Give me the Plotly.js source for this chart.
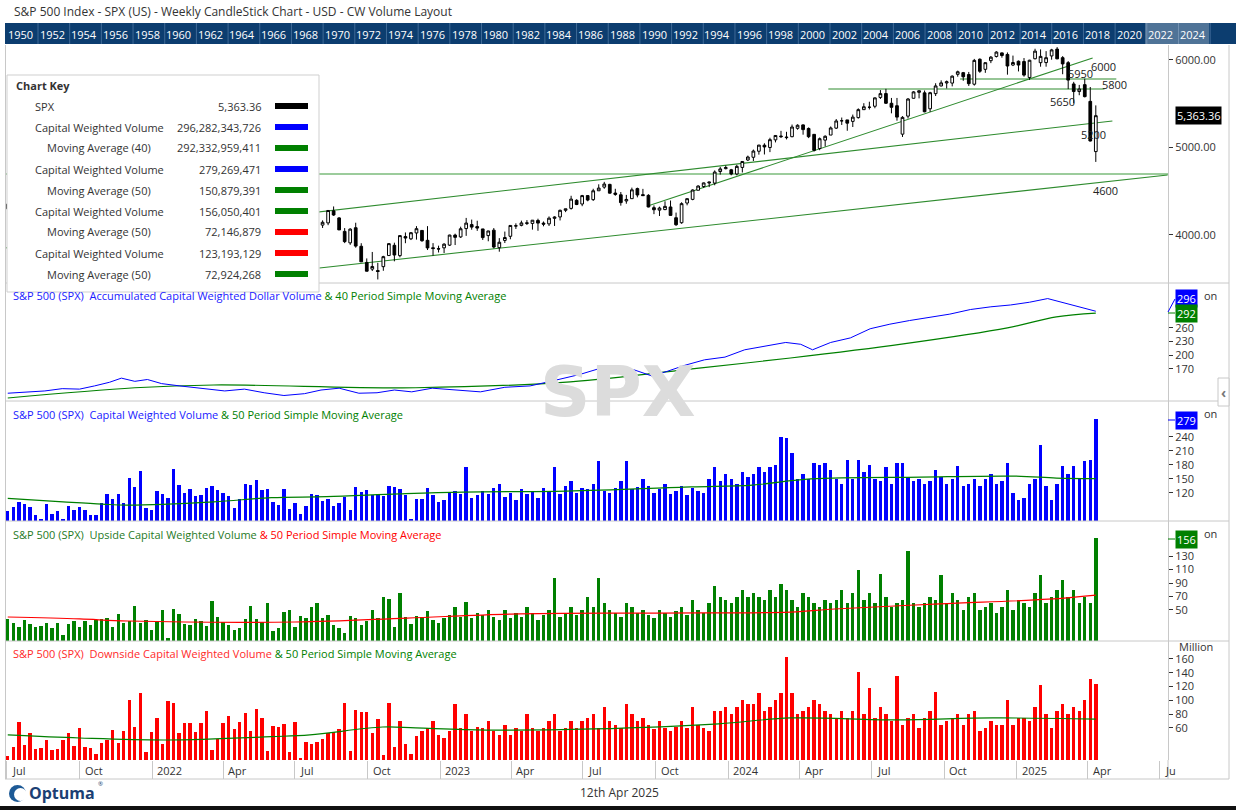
<!DOCTYPE html>
<html><head><meta charset="utf-8">
<script src="https://cdn.plot.ly/plotly-3.0.1.min.js"></script>
<style>html,body{margin:0;padding:0;background:#fff;}#chart{width:1236px;height:810px;}</style>
</head><body><div id="chart"></div>
<script>
// ---------------- DATA ----------------
const firstWeek = '2021-07-02';
const openP = [4300,4350,4372,4296,4409,4406,4438,4462,4450,4514,4535,4469,4402,4465,4348,4385,4464,4553,4610,4689,4689,4712,4628,4572,4710,4548,4733,
4778,4663,4632,4357,4431,4506,4412,4333,4363,4323,4188,4462,4541,4540,4462,4385,4255,4130,4081,4014,3919,4147,4134,3838,3696,3920,3815,3880,3883,3966,4113,4138,4276,4195,4041,3910,4083,3871,3686,3610,3593,3638,3765,3882,3764,3982,3956,4023,4052,3939,3854,3843,
3853,3884,3999,3978,4073,4119,4096,4069,3993,4055,3855,3938,3985,4102,4110,4139,4132,4166,4136,4127,4190,4206,4282,4304,4396,4354,4450,4404,4505,4547,4578,4479,4459,4389,4415,4530,4461,4453,4312,4284,4290,4320,4197,4140,4365,4407,4511,4554,4594,4593,4725,4758,
4745,4697,4772,4857,4888,4957,5026,5000,5087,5131,5112,5123,5219,5258,5217,5150,4988,5084,5142,5221,5305,5315,5298,5341,5432,5459,5471,5572,5616,5505,5477,5152,5358,5562,5630,5624,5442,5615,5703,5737,5736,5836,5855,5833,5723,6008,5893,5992,6040,6081,6063,5942,
5985,5982,5800,6014,5969,5970,6046,6124,6026,5969,5726,5639,5718,5527,4953];
const highP = [4356,4372,4393,4415,4429,4440,4469,4482,4513,4546,4549,4486,4466,4475,4430,4475,4559,4608,4718,4714,4717,4743,4672,4713,4731,4740,4808,
4819,4749,4673,4453,4596,4590,4489,4385,4402,4353,4465,4546,4637,4593,4471,4513,4308,4308,4081,4090,4159,4178,4169,3838,3914,3951,3918,3904,4013,4140,4167,4281,4326,4204,4079,4077,4140,3906,3732,3806,3682,3762,3906,3912,3996,4029,4034,4101,4052,4101,3907,3878,
3906,4003,4015,4095,4195,4176,4163,4070,4048,4079,3964,4039,4110,4133,4164,4170,4170,4186,4154,4212,4213,4290,4299,4448,4409,4458,4456,4528,4579,4607,4585,4528,4491,4458,4541,4541,4527,4466,4338,4324,4385,4394,4256,4374,4418,4521,4568,4599,4609,4738,4778,4794,
4755,4802,4842,4907,4976,5030,5048,5111,5140,5190,5179,5262,5265,5264,5229,5150,5114,5139,5240,5325,5342,5315,5376,5447,5506,5523,5571,5656,5670,5566,5566,5358,5564,5643,5651,5651,5636,5734,5767,5765,5823,5878,5863,5863,6012,6018,5972,6045,6100,6085,6086,6050,
5994,6022,6002,6128,6121,6101,6127,6147,6044,5987,5750,5715,5786,5691,5481];
const lowP = [4290,4321,4321,4233,4367,4368,4428,4367,4436,4503,4456,4427,4305,4278,4278,4330,4453,4537,4595,4631,4672,4585,4495,4532,4573,4532,4729,
4662,4582,4395,4223,4420,4401,4335,4114,4267,4157,4129,4424,4506,4450,4381,4267,4124,4062,3858,3811,3875,4074,3901,3637,3666,3738,3742,3721,3849,3911,4080,4112,4218,4058,3907,3887,3855,3694,3584,3588,3492,3591,3764,3699,3745,3906,3942,3947,3923,3828,3764,3800,
3794,3874,3885,3966,3990,4060,4047,3943,3928,3847,3809,3908,3951,4069,4099,4114,4061,4048,4099,4103,4103,4166,4261,4290,4341,4329,4385,4389,4503,4528,4474,4448,4335,4357,4415,4430,4446,4316,4238,4217,4284,4223,4104,4128,4339,4397,4511,4538,4547,4568,4690,4750,
4682,4682,4714,4845,4845,4918,4920,4947,5058,5108,5092,5117,5203,5146,5107,4954,4969,5011,5142,5211,5257,5191,5234,5330,5429,5434,5448,5554,5497,5390,5306,5120,5331,5560,5561,5402,5406,5588,5698,5674,5698,5809,5762,5703,5707,5853,5853,5964,6028,6026,5832,5930,
5869,5809,5773,6007,5923,5923,6003,6009,5837,5667,5505,5597,5572,5069,4835];
const closeP = [4352,4370,4327,4412,4395,4437,4468,4442,4509,4535,4459,4433,4455,4357,4391,4471,4545,4605,4697,4683,4698,4595,4538,4712,4621,4726,4766,
4677,4663,4398,4432,4500,4419,4349,4385,4329,4204,4463,4543,4546,4488,4392,4272,4132,4123,4024,3901,4158,4109,3901,3675,3912,3825,3899,3863,3962,4130,4145,4280,4228,4058,3924,4067,3873,3693,3586,3640,3583,3752,3901,3771,3993,3965,4026,4072,3934,3852,3845,3840,
3895,3999,3973,4071,4136,4090,4079,3970,4046,3862,3917,3971,4109,4105,4138,4133,4169,4136,4124,4192,4205,4282,4299,4410,4348,4450,4399,4505,4536,4582,4478,4464,4370,4406,4516,4457,4450,4320,4288,4308,4327,4224,4117,4358,4415,4514,4559,4595,4604,4719,4755,4770,
4697,4784,4840,4891,4959,5027,5006,5089,5137,5124,5117,5234,5254,5204,5123,4967,5100,5128,5223,5303,5305,5278,5347,5432,5465,5460,5567,5615,5505,5459,5347,5344,5554,5635,5648,5408,5626,5703,5738,5751,5815,5865,5808,5729,5995,5871,5969,6032,6090,6051,5931,5971,
5942,5827,5997,6101,6041,6026,6115,6013,5955,5770,5639,5668,5581,5074,5363.36];

// Capital weighted volume (Million)
const cwVolume = [81.5,90,100.7,96.4,90,72.9,65,96.4,75,81.5,64.7,92,83.6,90,83.6,73.6,72.9,98.6,117.9,107,
118,98.6,152,132.8,167,88,83.6,124,118,109,171,137,120,128.6,113.6,115.7,130.7,135,126,120,
113.6,88,107,139,137,148,126,128.6,100.7,94,128.6,85.7,98.6,75,92,118,115.7,103,107,92,
98.6,112,83.6,133,122,126,115.7,115.7,113.6,135,133,128.6,115.7,64.7,107,
107,130,115,100,105,120,125,118,175,110, 115,125,118,130,140,112,120,105,128,118,
122,110,130,125,176,118,135,145,120,130, 128,140,188,125,120,130,145,188,128,132,
150,135,120,128,140,118,125,135,115,130, 125,120,150,176,145,160,150,140,165,155,
160,176,165,176,180,240,238,205,150,160, 150,185,180,185,170,150,140,190,150,190,
165,180,150,145,175,140,185,185,155,145, 150,140,145,170,155,140,150,178,135,140,
150,135,150,160,140,145,185,120,105,110, 140,150,222,135,105,140,178,160,178,150,
188,191,279.27];
const upVolume = [36.7,30.7,24.8,35.2,29.3,24.8,26.3,30.7,23.3,30.7,13,29.3,33.7,24.8,33.7,27.8,35.2,37,38,24.8,
44,30.7,33.7,56,30.7,35.2,20.4,33.7,50,8.5,51.5,44,29.3,27.8,36.7,33.7,26.3,63.3,39.6,32.2,
27.8,20.4,23.3,36.7,56,36.7,32.2,60.4,18.9,23.3,47,50,24.8,41,38,54.4,60.4,38,42.6,27.8,
23.3,16,41,38,27.8,33.7,50,38,69,66,24.8,75,39.6,29.3,41,
40,48,35,30,38,42,55,40,62,38, 45,42,50,40,35,50,38,45,40,55,
45,35,42,50,97,40,45,55,42,50, 70,55,97,60,50,45,40,60,55,45,
50,42,38,50,45,40,48,55,42,65, 50,45,60,85,70,65,60,70,80,70,
75,70,65,80,70,88,80,65,55,75, 70,60,55,65,60,65,80,60,75,110,
65,75,60,103,70,55,60,65,137,60, 55,60,70,65,102,60,75,65,50,70,
75,50,55,60,45,55,80,50,65,60, 55,75,102,60,70,80,95,70,80,60,
70,60,156.05];
const downVolume = [19.4,32.5,68.7,35.4,52.8,29.6,31,42.6,28,29.6,42.6,52.8,34,60,32.5,31,22.3,38.3,42.6,57,
38.3,55.7,100.6,61.4,110.7,25.2,54.2,74.5,36.8,99,96,52.8,67,67,54.2,67,84.6,28,44,67,
77.4,58.6,68.7,81.7,55.7,87.5,74.5,26.7,62.9,61.4,65.8,25.2,68.7,16.5,39.7,36.8,39.7,44,52.8,54.2,
58.6,96,26.7,86,83.2,83.2,52.8,73,20.9,96,32.5,70,36.8,22.5,48.4,
55,60,70,50,45,55,95,60,80,55, 62,60,70,55,50,65,50,60,55,80,
60,55,60,70,80,55,60,70,60,70, 75,80,60,90,70,65,60,95,80,70,
75,65,58,70,60,55,62,70,60,90, 65,60,55,85,85,90,80,90,100,95,
95,111,85,90,100,110,163,110,80,85, 90,100,95,85,80,75,85,75,85,141,
80,118,75,90,80,70,136,65,75,80, 60,75,85,112,65,70,75,80,65,80,
85,55,60,70,65,65,100,65,75,75, 70,90,123,80,60,85,95,80,90,85,
100,131,123.19];

// Accumulated capital weighted dollar volume (read at points)
const accDates = ['2021-07-02','2021-07-23','2021-08-18','2021-09-09','2021-10-01','2021-10-20','2021-11-08','2021-11-23','2021-12-10','2021-12-26','2022-01-13','2022-02-05','2022-03-02','2022-04-03','2022-04-28','2022-05-23','2022-06-17','2022-07-13','2022-08-03','2022-08-26','2022-09-20','2022-10-13','2022-11-04','2022-11-26','2022-12-22','2023-01-20','2023-02-21','2023-03-24','2023-04-25','2023-05-26','2023-06-27','2023-07-20','2023-08-10','2023-09-04','2023-09-26','2023-10-16','2023-11-07','2023-12-02','2023-12-28','2024-01-22','2024-02-17','2024-03-14','2024-04-02','2024-04-17','2024-05-10','2024-06-04','2024-06-29','2024-07-24','2024-08-18','2024-09-13','2024-10-08','2024-11-03','2024-11-29','2024-12-24','2025-01-17','2025-02-09','2025-03-03','2025-03-22','2025-04-11'];
const accValues = [117,119,122,127,126,133,141,150,143,147,138,133,128,122,126,118,112,116,124,128,117,118,124,120,128,124,120,130,133,145,158,170,165,168,155,165,178,190,196,212,220,228,224,212,228,238,258,268,276,283,290,300,306,310,316,324,314,306,296.28];
const accMaDates = ['2021-07-02','2021-12-10','2022-03-20','2022-12-01','2023-06-15','2023-11-25','2024-03-20','2024-08-10','2024-12-20','2025-02-20','2025-04-11'];
const accMaValues = [106.6,129,135,129,142,172,194,225,260,284,292.33];
const cwMaDates = ['2021-07-02','2021-09-10','2021-10-30','2021-12-01','2022-03-20','2022-06-01','2022-08-10','2022-11-10','2023-01-30','2023-06-10','2023-11-15','2024-02-01','2024-04-15','2024-09-01','2024-12-30','2025-02-20','2025-04-11'];
const cwMaValues = [108.6,101,96,94,101,110,112,118,122,124,133,137,150,154,156,152,150.88];
const upMaDates = ['2021-07-02','2021-10-01','2021-12-01','2022-07-01','2022-11-20','2023-04-01','2023-10-01','2024-03-20','2024-05-15','2024-09-25','2025-02-10','2025-04-11'];
const upMaValues = [39.6,36.7,33.7,32.2,38,44,45.5,47,51.5,59,66,72.15];
const downMaDates = ['2021-07-02','2021-10-01','2022-01-20','2022-06-01','2022-07-20','2022-10-20','2022-12-01','2023-03-01','2023-07-15','2023-12-20','2024-03-20','2024-08-01','2024-12-01','2025-04-11'];
const downMaValues = [50,45.5,42.6,47.4,50,61.4,60,57,58.6,66,74.5,71.6,74.5,72.92];

// Axis labels
const xTickDates = ['2021-07-01','2021-10-01','2022-01-01','2022-04-01','2022-07-01','2022-10-01','2023-01-01','2023-04-01','2023-07-01','2023-10-01','2024-01-01','2024-04-01','2024-07-01','2024-10-01','2025-01-01','2025-04-01','2025-07-01'];
const xTickText = ['Jul','Oct','2022','Apr','Jul','Oct','2023','Apr','Jul','Oct','2024','Apr','Jul','Oct','2025','Apr','Ju'];
const navYears = [1950,1952,1954,1956,1958,1960,1962,1964,1966,1968,1970,1972,1974,1976,1978,1980,1982,1984,1986,1988,1990,1992,1994,1996,1998,2000,2002,2004,2006,2008,2010,2012,2014,2016,2018,2020,2022,2024];
const priceTicks = [4000,5000,6000];
const accTicks = [170,200,230,260];
const cwTicks = [120,150,180,210,240];
const upTicks = [50,70,90,110,130];
const downTicks = [60,80,100,120,140,160];

// Chart key
const keyLabels = ['SPX','Capital Weighted Volume','Moving Average (40)','Capital Weighted Volume','Moving Average (50)','Capital Weighted Volume','Moving Average (50)','Capital Weighted Volume','Moving Average (50)'];
const keyValues = ['5,363.36','296,282,343,726','292,332,959,411','279,269,471','150,879,391','156,050,401','72,146,879','123,193,129','72,924,268'];
const keyColors = ['#000000','#0000ff','#008000','#0000ff','#008000','#008000','#ff0000','#ff0000','#008000'];

// Trend lines drawn on the price panel (date, price)
const trendLines = [
  {d0:'2021-06-28', p0:3851, d1:'2025-05-02', p1:5303},
  {d0:'2022-08-01', p0:3623, d1:'2025-07-11', p1:4686},
  {d0:'2023-09-22', p0:4334, d1:'2025-04-07', p1:6023},
  {d0:'2024-10-21', p0:5783, d1:'2025-05-07', p1:5783},
  {d0:'2024-05-07', p0:5669, d1:'2025-04-22', p1:5669}
];
const levelLine = 4697;
const levelLabels = [
  {t:'6000', d:'2025-04-21', p:5931},
  {t:'5950', d:'2025-03-22', p:5850},
  {t:'5800', d:'2025-05-05', p:5714},
  {t:'5650', d:'2025-02-28', p:5520},
  {t:'5200', d:'2025-04-08', p:5154},
  {t:'4600', d:'2025-04-23', p:4503}
];

// ---------------- BUILD ----------------
const dates = [];
{ let t = Date.parse(firstWeek + 'T00:00:00Z'); for (let i = 0; i < closeP.length; i++) { dates.push(new Date(t).toISOString().slice(0,10)); t += 7*864e5; } }

const PL=5, PR=1168, PT=45, PB=760;
const fx = x => (x-PL)/(PR-PL);
const fy = y => (PB-y)/(PB-PT);
const FONT = 'Open Sans, Noto Sans, sans-serif';
const TXT = '#333';
const barW = 4.3*864e5;

const traces = [
  {type:'candlestick', x:dates, open:openP, high:highP, low:lowP, close:closeP, xaxis:'x', yaxis:'y',
   increasing:{line:{color:'#000',width:1}, fillcolor:'#fff'},
   decreasing:{line:{color:'#000',width:1}, fillcolor:'#000'}, whiskerwidth:0, hoverinfo:'skip'},
  {type:'scatter', mode:'lines', x:accMaDates, y:accMaValues, yaxis:'y2', line:{color:'#008000',width:1.2,shape:'spline'}, hoverinfo:'skip'},
  {type:'scatter', mode:'lines', x:accDates, y:accValues, yaxis:'y2', line:{color:'#0000ff',width:1}, hoverinfo:'skip'},
  {type:'bar', x:dates, y:cwVolume, yaxis:'y3', marker:{color:'#0000ff'}, width:barW, hoverinfo:'skip'},
  {type:'scatter', mode:'lines', x:cwMaDates, y:cwMaValues, yaxis:'y3', line:{color:'#008000',width:1.2,shape:'spline'}, hoverinfo:'skip'},
  {type:'bar', x:dates, y:upVolume, yaxis:'y4', marker:{color:'#008000'}, width:barW, hoverinfo:'skip'},
  {type:'scatter', mode:'lines', x:upMaDates, y:upMaValues, yaxis:'y4', line:{color:'#ff0000',width:1.2,shape:'spline'}, hoverinfo:'skip'},
  {type:'bar', x:dates, y:downVolume, yaxis:'y5', marker:{color:'#ff0000'}, width:barW, hoverinfo:'skip'},
  {type:'scatter', mode:'lines', x:downMaDates, y:downMaValues, yaxis:'y5', line:{color:'#008000',width:1.2,shape:'spline'}, hoverinfo:'skip'}
];

function yax(domain, range, ticks, fmt){
  return {domain:domain, range:range, side:'right', anchor:'x', tickvals:ticks, ticktext:ticks.map(fmt),
    ticks:'outside', ticklen:4, tickcolor:'#333', tickfont:{family:FONT,size:11,color:TXT},
    showgrid:false, zeroline:false, showline:true, linecolor:'#c8c8c8', linewidth:1, fixedrange:true};
}

const layout = {
  width:1236, height:810, margin:{l:PL, r:1236-PR, t:PT, b:810-PB},
  paper_bgcolor:'#fff', plot_bgcolor:'#fff', showlegend:false, bargap:0,
  font:{family:FONT, size:11, color:TXT},
  xaxis:{type:'date', range:['2021-06-28 12:00','2025-07-11 12:00'], anchor:'y5', showgrid:false, zeroline:false,
    tickvals:xTickDates, showticklabels:false, ticks:'outside', ticklen:18, tickcolor:'#c8c8c8',
    showline:false, rangeslider:{visible:false}, fixedrange:true},
  yaxis: yax([0.6671,1],[3451,6171],priceTicks,v=>v.toFixed(2)),
  yaxis2: yax([0.5021,0.6671],[100,358],accTicks,String),
  yaxis3: yax([0.3343,0.5021],[60,317],cwTicks,String),
  yaxis4: yax([0.1664,0.3343],[4,182],upTicks,String),
  yaxis5: yax([0,0.1664],[13.6,186],downTicks,String),
  shapes:[], annotations:[]
};
const S = layout.shapes, A = layout.annotations;
const pline = (x0,y0,x1,y1,color,w) => S.push({type:'line', xref:'paper', yref:'paper', x0:fx(x0), y0:fy(y0), x1:fx(x1), y1:fy(y1), line:{color:color,width:w||1}, layer:'above'});
const prect = (x0,y0,x1,y1,fill,lc,layer) => S.push({type:'rect', xref:'paper', yref:'paper', x0:fx(x0), y0:fy(y0), x1:fx(x1), y1:fy(y1), fillcolor:fill, line:{color:lc||fill,width:lc?1:0}, layer:layer||'above'});
const ptext = (x,y,text,opt) => A.push(Object.assign({xref:'paper', yref:'paper', x:fx(x), y:fy(y), text:text, showarrow:false, xanchor:'left', yanchor:'middle', font:{family:FONT,size:11,color:TXT}}, opt||{}));

// watermark
ptext(618,392,'<b>SPX</b>',{xanchor:'center',font:{family:'DejaVu Sans, sans-serif',size:70,color:'#dcdcdc'}});

// trend lines
S.push({type:'line', xref:'paper', yref:'y', x0:0, x1:1, y0:levelLine, y1:levelLine, line:{color:'#3a9a3a',width:1.2}, layer:'below'});
trendLines.forEach(t => S.push({type:'line', xref:'x', yref:'y', x0:t.d0, y0:t.p0, x1:t.d1, y1:t.p1, line:{color:'#2e8b2e',width:1.1}, layer:'below'}));
levelLabels.forEach(l => A.push({xref:'x', yref:'y', x:l.d, y:l.p, text:l.t, showarrow:false, xanchor:'center', yanchor:'middle', font:{family:FONT,size:11,color:'#222'}}));

// panel borders
[283,401,521,641].forEach(y => pline(PL,y,1229,y,'#c8c8c8',1));
pline(1229,45,1229,779,'#c8c8c8',1);
pline(PL+0.5,45,PL+0.5,779,'#c8c8c8',1);
pline(PL,779,1229,779,'#c8c8c8',1);
pline(PR,760,PR,779,'#c8c8c8',1);

// title
ptext(12,12,'S&P 500 Index - SPX (US) - Weekly CandleStick Chart - USD - CW Volume Layout',{font:{family:FONT,size:12,color:'#333'}});

// navigator band
prect(PL,23,1236,44,'#0c3d6f');
navYears.forEach((yr,i) => {
  const cx = 20.5 + 31.68*i;
  ptext(cx,34,String(yr),{xanchor:'center',font:{family:FONT,size:11,color:'#fff'}});
  pline(cx+17.5,23,cx+17.5,44,'#3f6a97',1);
});
prect(1145,23,1209,44,'rgba(255,255,255,0.28)');

// bottom x labels
xTickDates.forEach((d,i) => A.push({xref:'x', yref:'paper', x:d, y:fy(770), text:xTickText[i], showarrow:false, xanchor:'left', yanchor:'middle', xshift:3, font:{family:FONT,size:11,color:TXT}}));

// chart key box
prect(7,75,319,292,'#fff','#cfcfcf');
ptext(14,86,'<b>Chart Key</b>',{font:{family:FONT,size:11,color:'#333'}});
keyLabels.forEach((lab,i) => {
  const y = 106 + 21*i;
  const indent = lab.indexOf('Moving') === 0 ? 45 : 33;
  ptext(indent,y,lab);
  ptext(263,y,keyValues[i],{xanchor:'right'});
  prect(275,y-3,308,y+3,keyColors[i]);
});

// panel titles
const sp = (c,t) => '<span style="color:'+c+'">'+t+'</span>';
ptext(11,295, sp('#1a1aff','S&P 500 (SPX)  Accumulated Capital Weighted Dollar Volume ')+sp('#008000','& 40 Period Simple Moving Average'));
ptext(11,414, sp('#1a1aff','S&P 500 (SPX)  Capital Weighted Volume ')+sp('#008000','& 50 Period Simple Moving Average'));
ptext(11,534, sp('#1f7a1f','S&P 500 (SPX)  Upside Capital Weighted Volume ')+sp('#ff0000','& 50 Period Simple Moving Average'));
ptext(11,653, sp('#ff2a2a','S&P 500 (SPX)  Downside Capital Weighted Volume ')+sp('#008000','& 50 Period Simple Moving Average'));

// connectors from last values to value boxes
pline(PR,312,1175,299,'#0000ff',1);
pline(PR,313,1175,313,'#008000',1);
pline(PR,420,1175,420,'#0000ff',1);
pline(PR,539,1175,539,'#008000',1);

// right side labels ("Million" partly hidden behind value boxes, as in the reference)
[295,413,533].forEach(y => ptext(1202,y,'on',{font:{family:FONT,size:11,color:'#333'}}));
ptext(1177,646,'Million',{font:{family:FONT,size:11,color:'#333'}});
ptext(1175,115,'5,363.36',{bgcolor:'#000',font:{family:FONT,size:11,color:'#fff'},borderpad:1});
ptext(1175,298,'296',{bgcolor:'#0000ff',font:{family:FONT,size:11,color:'#fff'},borderpad:1});
ptext(1175,313,'292',{bgcolor:'#008000',font:{family:FONT,size:11,color:'#fff'},borderpad:1});
ptext(1175,420,'279',{bgcolor:'#0000ff',font:{family:FONT,size:11,color:'#fff'},borderpad:1});
ptext(1175,539,'156',{bgcolor:'#008000',font:{family:FONT,size:11,color:'#fff'},borderpad:1});
// side tab
prect(1218,378,1229,406,'#fff','#c8c8c8');
ptext(1223.5,392,'<b>‹</b>',{xanchor:'center',font:{family:FONT,size:14,color:'#777'}});

// footer
S.push({type:'circle', xref:'paper', yref:'paper', x0:fx(9), x1:fx(26), y0:fy(802), y1:fy(785), fillcolor:'#1d5a96', line:{width:0}, layer:'above'});
S.push({type:'circle', xref:'paper', yref:'paper', x0:fx(14), x1:fx(27), y0:fy(801), y1:fy(788), fillcolor:'#fff', line:{width:0}, layer:'above'});
ptext(27,793,'<b>Optuma</b>',{font:{family:FONT,size:16,color:'#1b3f73'}});
ptext(96,784,'®',{font:{family:FONT,size:6,color:'#1b3f73'}});
ptext(619,792,'12th Apr 2025',{xanchor:'center',font:{family:FONT,size:12,color:'#333'}});
prect(0,806,1236,810,'#111');

Plotly.newPlot('chart', traces, layout, {staticPlot:true, displayModeBar:false});
</script></body></html>
